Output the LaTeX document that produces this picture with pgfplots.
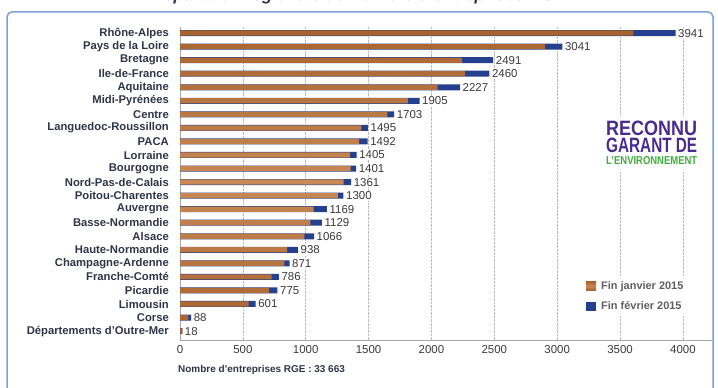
\documentclass[border=0pt]{standalone}
\usepackage{pgfplots}
\usepackage{pgfplotstable}
\pgfplotsset{compat=1.18}
\usepackage{fontspec}
\setmainfont{Liberation Sans}
\definecolor{janv}{HTML}{A8622E}
\definecolor{janvL}{HTML}{C98A55}
\definecolor{fev}{HTML}{24408F}
\definecolor{catc}{HTML}{2E3548}
\definecolor{valc}{HTML}{3A3A3A}
\definecolor{framec}{HTML}{7D9ED6}
\definecolor{logop}{HTML}{4A2C8E}
\definecolor{logog}{HTML}{3FAF3C}
\pgfplotstableread{
idx jan feb
0 3606 3941
1 2902 3041
2 2242 2491
3 2268 2460
4 2048 2227
5 1813 1905
6 1649 1703
7 1443 1495
8 1424 1492
9 1353 1405
10 1357 1401
11 1302 1361
12 1256 1300
13 1063 1169
14 1037 1129
15 989 1066
16 852 938
17 831 871
18 728 786
19 709 775
20 546 601
21 64 88
22 18 18
}\rge
\begin{document}
\begin{tikzpicture}
\useasboundingbox (0bp,0bp) rectangle (718bp,388bp);
\clip (0bp,0bp) rectangle (718bp,388bp);
\draw[color=framec, line width=1.5bp, rounded corners=5bp] (7bp,-10bp) rectangle (713bp,376bp);
\node[anchor=base, inner sep=0pt, font=\bfseries\itshape\fontsize{17}{17}\selectfont, text=catc] at (359bp,387bp) {Répartition régionale du nombre d'entreprises RGE};
\begin{axis}[
  name=ax,
  at={(180bp,48bp)}, anchor=south west,
  width=532bp, height=313bp, scale only axis,
  xmin=0, xmax=4231, ymin=-0.45, ymax=22.66, y dir=reverse,
  axis x line=bottom, axis y line=left,
  axis line style={-, gray!70, line width=0.8bp},
  major tick length=0pt,
  xtick={0,500,...,4000},
  ytick={0,...,22},
  yticklabels={Rhône-Alpes,Pays de la Loire,Bretagne,Ile-de-France,Aquitaine,Midi-Pyrénées,Centre,Languedoc-Roussillon,PACA,Lorraine,Bourgogne,Nord-Pas-de-Calais,Poitou-Charentes,Auvergne,Basse-Normandie,Alsace,Haute-Normandie,Champagne-Ardenne,Franche-Comté,Picardie,Limousin,Corse,Départements d'Outre-Mer},
  yticklabel style={anchor=east, inner sep=0pt, xshift=-11bp, font=\bfseries\fontsize{11.3}{12}\selectfont, text=catc},
  xticklabel style={anchor=north, inner sep=0pt, yshift=-5bp, font=\fontsize{11.5}{12}\selectfont, text=valc},
  /pgf/number format/assume math mode=true,
  /pgf/number format/1000 sep={},
  xmajorgrids, grid style={densely dotted, gray!55, line width=0.7bp},
  legend style={at={(0.7575,0.2045)}, anchor=north west, draw=none, fill=white,
    font=\bfseries\fontsize{11}{12}\selectfont, text=gray!75!black, row sep=7bp, inner sep=3bp,
    /tikz/every odd column/.style={column sep=3bp}},
  legend cell align=left,
  reverse legend,
  legend image code/.code={\fill[#1] (0bp,-4.5bp) rectangle (10bp,4.5bp);},
]
\addplot[xbar, bar width=6bp, fill=fev, draw=none, bar shift=0pt,
  point meta=x,
  nodes near coords={\pgfmathprintnumber[fixed,precision=0,1000 sep={}]{\pgfplotspointmeta}},
  nodes near coords style={anchor=west, inner sep=1bp, xshift=1.5bp, fill=white, font=\fontsize{11.5}{12}\selectfont, text=valc}]
  table[x=feb, y=idx] {\rge};
\addlegendentry{Fin février 2015}
\addplot[xbar, bar width=5.2bp, draw=none, bar shift=0pt, top color=janv, bottom color=janv, middle color=janvL]
  table[x=jan, y=idx] {\rge};
\addlegendentry{Fin janvier 2015}
\end{axis}
\fill[white] (601bp,272bp) rectangle (702bp,216bp);
\node[anchor=north west, inner sep=0pt, text=logop] at (606bp,267bp) {\resizebox{91bp}{14.5bp}{\bfseries RECONNU}};
\node[anchor=north west, inner sep=0pt, text=logop] at (606bp,250bp) {\resizebox{91bp}{14.5bp}{\bfseries GARANT DE}};
\node[anchor=north west, inner sep=0pt, text=logog] at (606bp,232bp) {\resizebox{91bp}{8bp}{\bfseries L'ENVIRONNEMENT}};
\node[anchor=base west, inner sep=0pt, font=\bfseries\fontsize{10}{12}\selectfont, text=catc] at (178bp,16bp) {Nombre d'entreprises RGE : 33 663};
\end{tikzpicture}
\end{document}
